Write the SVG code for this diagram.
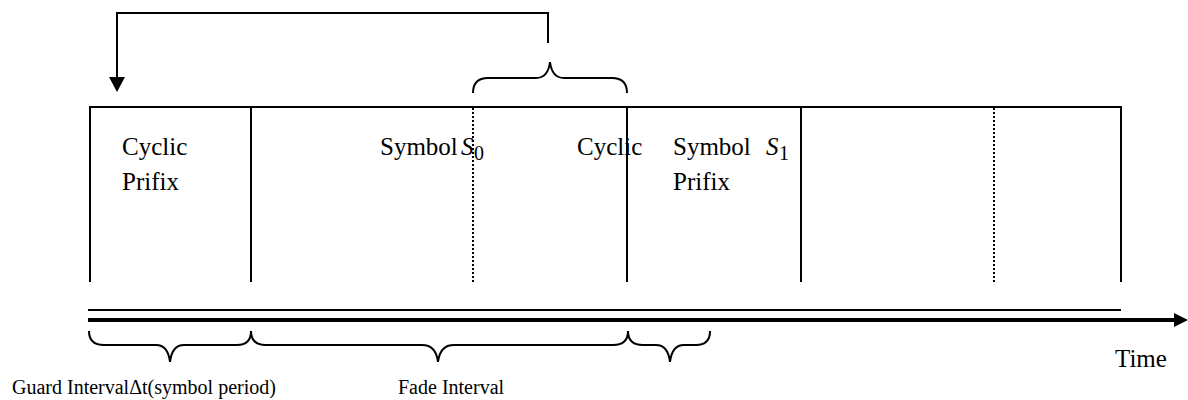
<svg xmlns="http://www.w3.org/2000/svg" width="1188" height="400" viewBox="0 0 1188 400">
<style>
.ln{stroke:#000;stroke-width:2;fill:none}
.dot{stroke:#000;stroke-width:2;fill:none;stroke-dasharray:2,2}
.br{stroke:#000;stroke-width:2;fill:none}
text{font-family:'Liberation Serif','DejaVu Serif',serif;fill:#000}
.big{font-size:25px}
.sm{font-size:20px}
</style>
<g id="frame">
<line class="ln" x1="89" y1="107" x2="1122" y2="107"/>
<line class="ln" x1="90" y1="106" x2="90" y2="282"/>
<line class="ln" x1="251" y1="106" x2="251" y2="282"/>
<line class="dot" x1="473" y1="108" x2="473" y2="282"/>
<line class="ln" x1="627" y1="106" x2="627" y2="282"/>
<line class="ln" x1="801" y1="106" x2="801" y2="282"/>
<line class="dot" x1="994" y1="108" x2="994" y2="282"/>
<line class="ln" x1="1121" y1="106" x2="1121" y2="282"/>
</g>
<g id="axis">
<line x1="88" y1="310" x2="1121" y2="310" stroke="#000" stroke-width="2"/>
<line x1="88" y1="320" x2="1176" y2="320" stroke="#000" stroke-width="4"/>
<path d="M1174,313 L1188,320 L1174,327 Z" fill="#000"/>
</g>
<g id="connectors">
<path class="ln" d="M548,43 V13 H117 V80"/>
<path d="M109,77 L125,77 L117,92 Z" fill="#000"/>
</g>
<g id="braces">
<path class="br" d="M473,93 Q473,78 488,78 H536 Q548,78 550,62 Q552,78 564,78 H612 Q627,78 627,93"/>
<path class="br" d="M89,331 Q89,345 104,345 H156 Q168,345 170,362 Q172,345 184,345 H237 Q251,345 251,331"/>
<path class="br" d="M251,331 Q251,345 266,345 H422 Q436,345 438,362 Q440,345 454,345 H613 Q628,345 628,331"/>
<path class="br" d="M628,331 Q628,345 643,345 H656 Q668,345 670,362 Q672,345 684,345 H696 Q710,345 710,331"/>
</g>
<g id="cp1">
<text class="big" font-family="Liberation Serif, serif" x="122" y="155">Cyclic</text>
<text class="big" font-family="Liberation Serif, serif" x="122" y="190">Prifix</text>
</g>
<g id="sym0">
<text class="big" font-family="Liberation Serif, serif" x="380" y="155">Symbol<tspan font-style="italic" x="461">S</tspan><tspan font-size="20" x="474" y="160">0</tspan></text>
</g>
<g id="cp2">
<text class="big" font-family="Liberation Serif, serif" x="577" y="155">Cyclic</text>
<text class="big" font-family="Liberation Serif, serif" x="673" y="190">Prifix</text>
</g>
<g id="sym1">
<text class="big" font-family="Liberation Serif, serif" x="673" y="155">Symbol<tspan font-style="italic" x="766">S</tspan><tspan font-size="20" x="779" y="160">1</tspan></text>
</g>
<g id="labels">
<text class="sm" font-family="Liberation Serif, serif" x="12" y="394">Guard IntervalΔt(symbol period)</text>
<text class="sm" font-family="Liberation Serif, serif" x="398" y="394">Fade Interval</text>
<text class="big" font-family="Liberation Serif, serif" x="1115" y="367">Time</text>
</g>
</svg>
